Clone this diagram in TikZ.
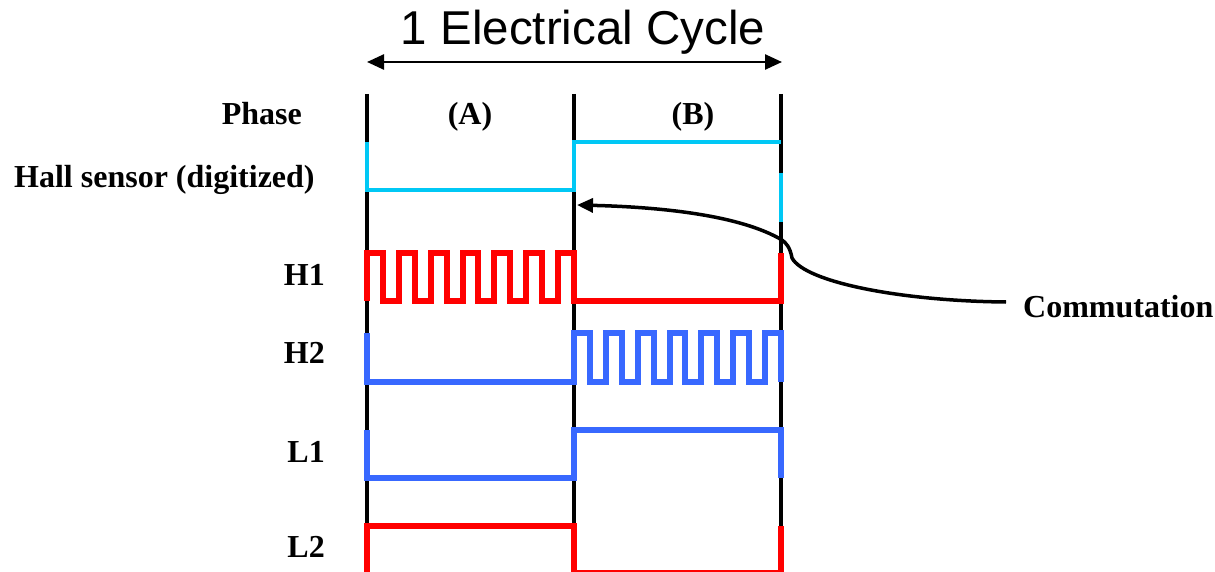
\documentclass[tikz,border=0pt]{standalone}
\usepackage{fontspec}
\setmainfont{Liberation Serif}
\newfontfamily\titlefont{Liberation Sans}
\usetikzlibrary{arrows.meta}
\definecolor{hallcyan}{RGB}{0,200,245}
\definecolor{sigblue}{RGB}{56,104,255}
\definecolor{sigred}{RGB}{255,0,0}
\tikzset{
  lbl/.style={inner sep=0pt, font=\fontsize{32}{36}\selectfont\bfseries},
  divider/.style={line width=3.5pt, black},
  hallwave/.style={line width=4pt, hallcyan},
  redwave/.style={line width=6pt, sigred},
  bluewave/.style={line width=6pt, sigblue},
  cyclearrow/.style={line width=2.5pt, {Triangle[length=17pt,width=15pt]}-{Triangle[length=17pt,width=15pt]}},
  commarrow/.style={line width=3.5pt, -{Triangle[length=16pt,width=14pt]}}
}
\begin{document}
\begin{tikzpicture}[x=1pt,y=-1pt]
\useasboundingbox (0,0) rectangle (1215,572);

% title
\node[inner sep=0pt, anchor=base, font=\titlefont\fontsize{47.5}{52}\selectfont] (title) at (583,45) {1 Electrical Cycle};
\coordinate (cycL) at (367,62);
\coordinate (cycR) at (782,62);
\draw[cyclearrow] (cycL) -- (cycR);

% dividers
\coordinate (d1t) at (367,94); \coordinate (d1b) at (367,572);
\coordinate (d2t) at (574,94); \coordinate (d2b) at (574,572);
\coordinate (d3t) at (781,94); \coordinate (d3b) at (781,572);
\draw[divider] (d1t) -- (d1b);
\draw[divider] (d2t) -- (d2b);
\draw[divider] (d3t) -- (d3b);

% row labels
\node[lbl, anchor=base east] (phase) at (302,125) {Phase};
\node[lbl, anchor=base west] (hall) at (14,188) {Hall sensor (digitized)};
\node[lbl, anchor=base east] (h1) at (325,285) {H1};
\node[lbl, anchor=base east] (h2) at (325,363) {H2};
\node[lbl, anchor=base east] (l1) at (325,462) {L1};
\node[lbl, anchor=base east] (l2) at (325,557) {L2};
\node[lbl, anchor=base] (pa) at (470,125) {(A)};
\node[lbl, anchor=base] (pb) at (693,125) {(B)};

% hall sensor
\draw[hallwave] (367,142) -- (367,190) -- (574,190) -- (574,142) -- (781,142);
\draw[hallwave] (781,173) -- (781,222);

% H1
\draw[redwave] (367,301) -- (367,253) -- (383,253) -- (383,301) -- (399,301) -- (399,253)
  -- (415,253) -- (415,301) -- (431,301) -- (431,253) -- (447,253) -- (447,301)
  -- (463,301) -- (463,253) -- (478,253) -- (478,301) -- (494,301) -- (494,253)
  -- (510,253) -- (510,301) -- (526,301) -- (526,253) -- (542,253) -- (542,301)
  -- (558,301) -- (558,253) -- (574,253) -- (574,301) -- (781,301) -- (781,253);

% H2
\draw[bluewave] (367,333) -- (367,382) -- (574,382) -- (574,333) -- (590,333) -- (590,382)
  -- (606,382) -- (606,333) -- (622,333) -- (622,382) -- (638,382) -- (638,333)
  -- (654,333) -- (654,382) -- (670,382) -- (670,333) -- (685,333) -- (685,382)
  -- (701,382) -- (701,333) -- (717,333) -- (717,382) -- (733,382) -- (733,333)
  -- (749,333) -- (749,382) -- (765,382) -- (765,333) -- (781,333) -- (781,382);

% L1
\draw[bluewave] (367,430) -- (367,478) -- (574,478) -- (574,430) -- (781,430) -- (781,478);

% L2
\draw[redwave] (367,572) -- (367,526) -- (574,526) -- (574,572);
\draw[sigred, line width=1.8pt] (574,571) -- (781,571);
\draw[redwave] (781,526) -- (781,572);

% commutation
\node[lbl, anchor=base west] (comm) at (1023,317) {Commutation};
\coordinate (cstart) at (1006,302);
\coordinate (tip) at (577,205);
\draw[commarrow] (cstart) .. controls (900,301) and (805,282) .. (792,258)
  .. controls (790,247) and (786,243) .. (782,240)
  .. controls (740,215) and (660,207) .. (tip);
\end{tikzpicture}
\end{document}
